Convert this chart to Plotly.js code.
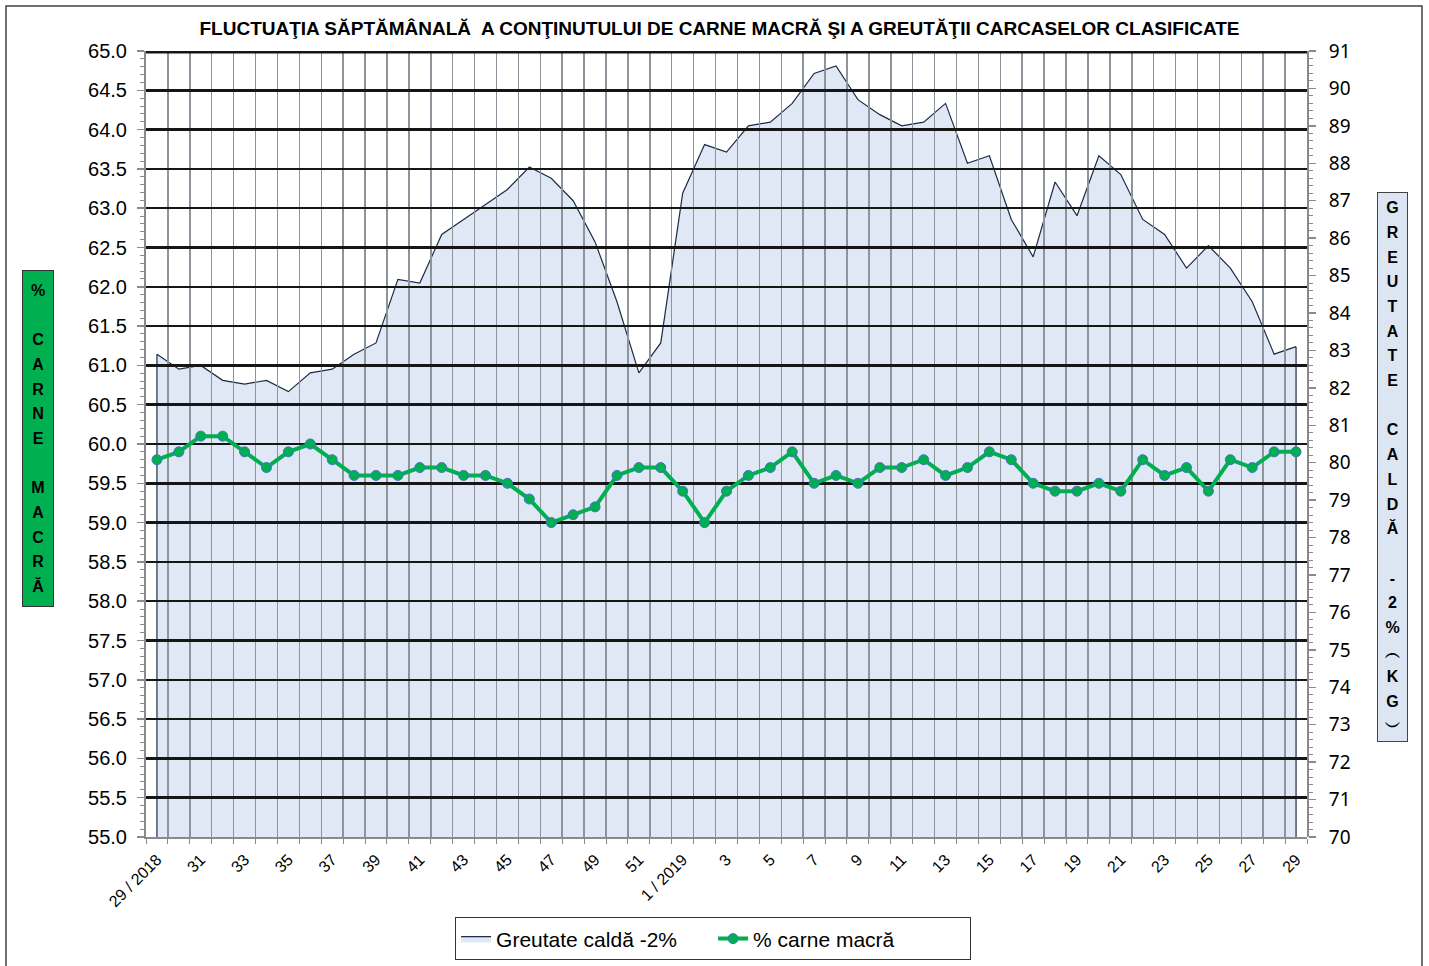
<!DOCTYPE html>
<html>
<head>
<meta charset="utf-8">
<script src="https://cdn.plot.ly/plotly-3.0.1.min.js"></script>
<style>
html,body{margin:0;padding:0;background:#fff;}
#chart{width:1429px;height:966px;}
</style>
</head>
<body>
<div id="chart"></div>
<script>
// ---- data ----
const weekLabels = ["29 / 2018","30","31","32","33","34","35","36","37","38","39","40","41","42","43","44","45","46","47","48","49","50","51","52",
  "1 / 2019","2","3","4","5","6","7","8","9","10","11","12","13","14","15","16","17","18","19","20","21","22","23","24","25","26","27","28","29"];
// Greutate caldă -2% (kg) - right axis
const hotWeight = [82.9,82.5,82.6,82.2,82.1,82.2,81.9,82.4,82.5,82.9,
  83.2,84.9,84.8,86.1,86.5,86.9,87.3,87.9,87.6,87.0,
  85.9,84.3,82.4,83.2,87.2,88.5,88.3,89.0,89.1,89.6,
  90.4,90.6,89.7,89.3,89.0,89.1,89.6,88.0,88.2,86.5,
  85.5,87.5,86.6,88.2,87.7,86.5,86.1,85.2,85.8,85.2,
  84.3,82.9,83.1];
// % carne macră - left axis
const leanMeat = [59.8,59.9,60.1,60.1,59.9,59.7,59.9,60.0,59.8,59.6,
  59.6,59.6,59.7,59.7,59.6,59.6,59.5,59.3,59.0,59.1,
  59.2,59.6,59.7,59.7,59.4,59.0,59.4,59.6,59.7,59.9,
  59.5,59.6,59.5,59.7,59.7,59.8,59.6,59.7,59.9,59.8,
  59.5,59.4,59.4,59.5,59.4,59.8,59.6,59.7,59.4,59.8,
  59.7,59.9,59.9];
const leftRange = [55, 65];
const rightRange = [70, 91];
const chartTitle = "FLUCTUAŢIA SĂPTĂMÂNALĂ  A CONŢINUTULUI DE CARNE MACRĂ ŞI A GREUTĂŢII CARCASELOR CLASIFICATE";
const leftTitleLetters = ["%"," ","C","A","R","N","E"," ","M","A","C","R","Ă"];
const rightTitleLetters = ["G","R","E","U","T","A","T","E"," ","C","A","L","D","Ă"," ","-","2","%","︵","K","G","︶"];
const seriesNames = ["Greutate caldă -2%", "% carne macră"];

// ---- derived ----
const xIdx = weekLabels.map((_, i) => i);
const last = xIdx.length - 1;
const tickvals = xIdx.filter(i => i % 2 === 0);
const ticktext = tickvals.map(i => weekLabels[i]);
const xRange = [-0.5, last + 0.5];

function stackText(letters) {
  return letters.map(c => '<span style="font-size:16px">' + (c === ' ' ? '&nbsp;' : c) + '</span>').join('<br>');
}

const grey = '#8a8a8a';
const gridBlack = '#161616';

const traces = [
  {
    type: 'scatter', x: xIdx, y: hotWeight, xaxis: 'x', yaxis: 'y',
    mode: 'lines', fill: 'tozeroy', fillcolor: '#e0e8f5',
    line: {color: '#1c2b45', width: 1.2},
    name: seriesNames[0], hoverinfo: 'skip'
  },
  {
    type: 'scatter', xaxis: 'x', yaxis: 'y',
    x: [xIdx[0], xIdx[0], null, xIdx[last], xIdx[last]],
    y: [rightRange[0], hotWeight[0], null, rightRange[0], hotWeight[last]],
    mode: 'lines', line: {color: '#1c2b45', width: 1.2},
    showlegend: false, hoverinfo: 'skip'
  },
  {
    type: 'scatter', x: xIdx, y: leanMeat, xaxis: 'x2', yaxis: 'y2',
    mode: 'lines+markers',
    line: {color: '#00b050', width: 4},
    marker: {size: 10, color: '#00b050', line: {color: '#4472c4', width: 1}},
    name: seriesNames[1], hoverinfo: 'skip'
  }
];

const layout = {
  width: 1429, height: 966,
  paper_bgcolor: '#ffffff', plot_bgcolor: 'rgba(0,0,0,0)',
  margin: {l: 146, r: 122, t: 51, b: 129, pad: 0},
  showlegend: true,
  title: {
    text: chartTitle,
    font: {family: 'Liberation Sans, Arial, sans-serif', size: 19, weight: 'bold', color: '#000'},
    xref: 'container', x: 0.5035, xanchor: 'center',
    yref: 'container', y: 0.971, yanchor: 'middle'
  },
  xaxis: {domain: [0, 1], anchor: 'y', range: xRange, visible: false},
  yaxis: {
    domain: [0, 1], anchor: 'x', side: 'right', range: rightRange,
    tickmode: 'linear', tick0: 70, dtick: 1,
    showgrid: false, zeroline: false,
    showline: true, linecolor: grey, linewidth: 2,
    ticks: 'outside', ticklen: 7, tickwidth: 1.5, tickcolor: grey,
    minor: {dtick: 0.2, ticks: 'outside', ticklen: 4, tickwidth: 1, tickcolor: grey},
    tickfont: {family: 'Noto Sans, sans-serif', size: 19, color: '#000'},
    ticklabelstandoff: 9
  },
  xaxis2: {
    domain: [0, 1], anchor: 'y2', range: xRange,
    tickmode: 'array', tickvals: tickvals, ticktext: ticktext, tickangle: -45,
    showgrid: false, zeroline: false, ticks: '',
    showline: true, linecolor: grey, linewidth: 2,
    tickfont: {family: 'Liberation Sans, Arial, sans-serif', size: 16, color: '#000'},
    ticklabelstandoff: 5,
    minor: {tickmode: 'linear', tick0: 0.5, dtick: 1, showgrid: true, gridcolor: '#8e949b', gridwidth: 1.5,
            ticks: 'outside', ticklen: 5, tickcolor: grey, tickwidth: 1}
  },
  yaxis2: {
    domain: [0, 1], anchor: 'x2', side: 'left', range: leftRange,
    tickmode: 'linear', tick0: 55, dtick: 0.5, tickformat: '.1f',
    showgrid: true, gridcolor: gridBlack, gridwidth: 2.5, zeroline: false,
    showline: true, linecolor: grey, linewidth: 2,
    ticks: 'outside', ticklen: 7, tickwidth: 1.5, tickcolor: grey,
    minor: {dtick: 0.1, ticks: 'outside', ticklen: 4, tickwidth: 1, tickcolor: grey},
    tickfont: {family: 'Liberation Sans, Arial, sans-serif', size: 20, color: '#000'},
    ticklabelstandoff: 6
  },
  legend: {
    orientation: 'h',
    xref: 'container', x: 0.499, xanchor: 'center',
    yref: 'container', y: 0.028, yanchor: 'middle',
    bgcolor: '#ffffff', bordercolor: '#333333', borderwidth: 1,
    entrywidth: 212,
    font: {family: 'Liberation Sans, Arial, sans-serif', size: 21, color: '#000'}
  },
  annotations: [
    {
      xref: 'paper', yref: 'paper', x: -0.09302, y: 0.5070, xanchor: 'center', yanchor: 'middle',
      text: stackText(leftTitleLetters), showarrow: false,
      font: {family: 'Liberation Sans, Arial, sans-serif', size: 19, weight: 'bold', color: '#000'},
      bgcolor: '#00b050', bordercolor: '#333333', borderwidth: 1, borderpad: 0,
      width: 30, height: 335, valign: 'middle', align: 'center'
    },
    {
      xref: 'paper', yref: 'paper', x: 1.07364, y: 0.47074, xanchor: 'center', yanchor: 'middle',
      text: stackText(rightTitleLetters), showarrow: false,
      font: {family: 'Liberation Sans, Arial, sans-serif', size: 19, weight: 'bold', color: '#000'},
      bgcolor: '#dce6f2', bordercolor: '#444444', borderwidth: 1, borderpad: 0,
      width: 29, height: 548, valign: 'middle', align: 'center'
    }
  ],
  shapes: [
    {
      type: 'rect', xref: 'paper', yref: 'paper', layer: 'below',
      x0: -0.12058, x1: 1.09905, y0: -0.18, y1: 1.05725,
      line: {color: '#404040', width: 1.5}, fillcolor: 'rgba(0,0,0,0)'
    },
    {
      // top grid line at the upper end of the left axis
      type: 'line', xref: 'paper', yref: 'y2', layer: 'above',
      x0: 0, x1: 1, y0: leftRange[1], y1: leftRange[1],
      line: {color: gridBlack, width: 5}
    }
  ]
};

Plotly.newPlot('chart', traces, layout, {displayModeBar: false, staticPlot: true});
</script>
</body>
</html>
